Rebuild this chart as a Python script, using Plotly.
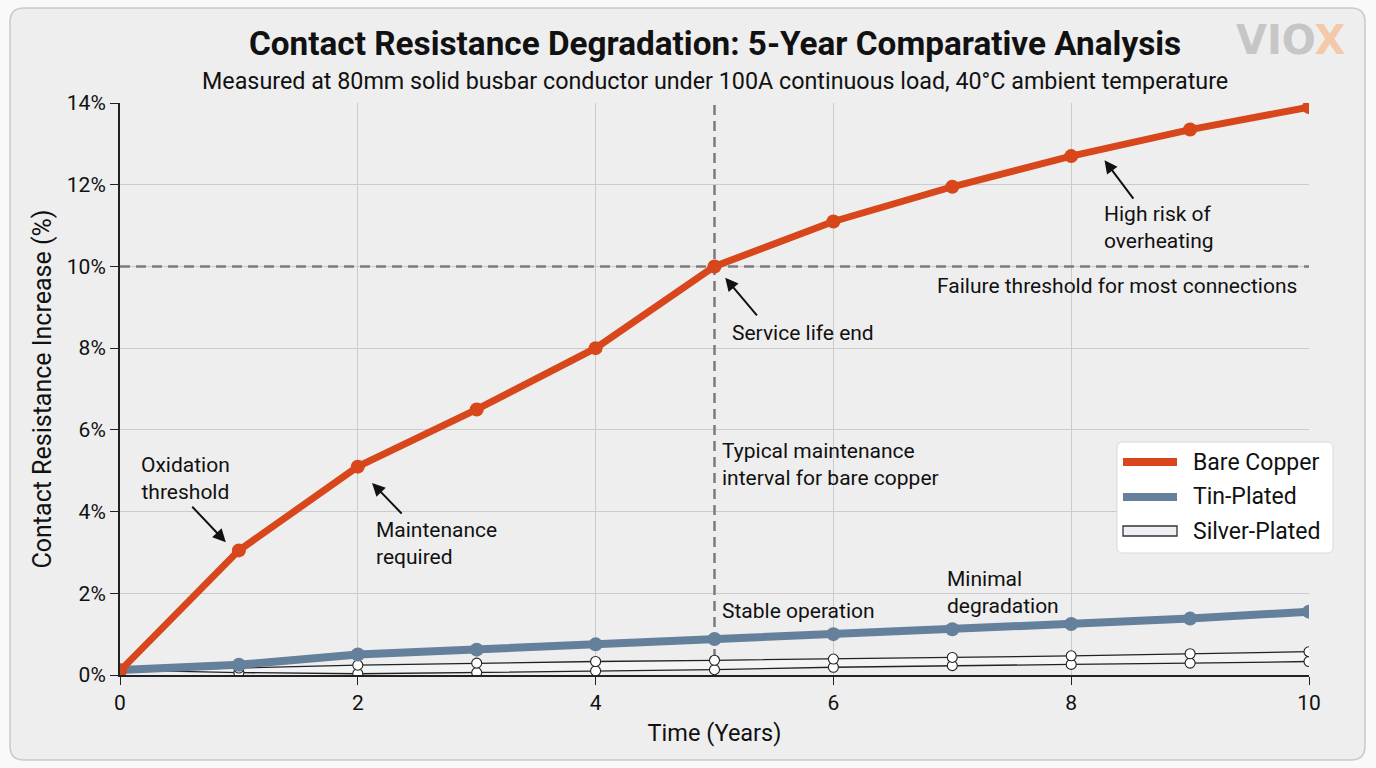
import plotly.graph_objects as go

years = [0, 1, 2, 3, 4, 5, 6, 7, 8, 9, 10]
bare_copper = [0.1, 3.05, 5.1, 6.5, 8.0, 10.0, 11.1, 11.95, 12.7, 13.35, 13.9]
tin_plated = [0.12, 0.25, 0.5, 0.62, 0.75, 0.88, 1.0, 1.12, 1.25, 1.38, 1.55]
silver_upper = [0.12, 0.17, 0.24, 0.29, 0.33, 0.36, 0.39, 0.43, 0.47, 0.52, 0.57]
silver_lower = [0.12, 0.06, 0.03, 0.06, 0.1, 0.13, 0.19, 0.23, 0.26, 0.29, 0.33]
failure_threshold = 10
maintenance_year = 5
y_ticks = [0, 2, 4, 6, 8, 10, 12, 14]
y_tick_labels = ["0%", "2%", "4%", "6%", "8%", "10%", "12%", "14%"]
x_ticks = [0, 2, 4, 6, 8, 10]
series_names = ["Bare Copper", "Tin-Plated", "Silver-Plated"]

COPPER = "#d8461b"
TIN = "#64809b"
FONT = "Roboto"

fig = go.Figure()

# silver plated band (two outlines)
fig.add_trace(go.Scatter(
    x=years, y=silver_lower, mode="lines+markers", showlegend=False,
    line=dict(color="#222222", width=1.3), name=series_names[2],
    marker=dict(size=10, color="white", line=dict(color="#222222", width=1.1)),
    hoverinfo="skip"))
fig.add_trace(go.Scatter(
    x=years, y=silver_upper, mode="lines+markers", showlegend=False,
    fill="tonexty", fillcolor="#f3f4f6", name=series_names[2],
    line=dict(color="#222222", width=1.3),
    marker=dict(size=10, color="white", line=dict(color="#222222", width=1.1)),
    hoverinfo="skip"))
fig.add_trace(go.Scatter(
    x=years, y=tin_plated, mode="lines+markers", name=series_names[1],
    line=dict(color=TIN, width=8),
    marker=dict(size=14, color=TIN), showlegend=False))
fig.add_trace(go.Scatter(
    x=years, y=bare_copper, mode="lines+markers", name=series_names[0],
    line=dict(color=COPPER, width=7),
    marker=dict(size=14, color=COPPER), showlegend=False))

# reference lines (drawn between grid and traces)
fig.add_shape(type="line", xref="x", yref="y", x0=0, x1=10,
              y0=failure_threshold, y1=failure_threshold,
              line=dict(color="#7c7c7c", width=2.5, dash="10px,6px"), layer="between")
fig.add_shape(type="line", xref="x", yref="y", x0=maintenance_year, x1=maintenance_year,
              y0=0, y1=14, line=dict(color="#7c7c7c", width=2.5, dash="10px,6px"), layer="between")

PW, PH = 1189.0, 572.0
def px(xp):
    return (xp - 120) / PW
def py(yp):
    return (675 - yp) / PH

def rounded(L, T, R, B, r):
    return (f"M {px(L+r)},{py(T)} L {px(R-r)},{py(T)} Q {px(R)},{py(T)} {px(R)},{py(T+r)} "
            f"L {px(R)},{py(B-r)} Q {px(R)},{py(B)} {px(R-r)},{py(B)} "
            f"L {px(L+r)},{py(B)} Q {px(L)},{py(B)} {px(L)},{py(B-r)} "
            f"L {px(L)},{py(T+r)} Q {px(L)},{py(T)} {px(L+r)},{py(T)} Z")

# card background
fig.add_shape(type="path", xref="paper", yref="paper", path=rounded(10, 8, 1365, 760, 14),
              fillcolor="#eeeeee", line=dict(color="#c9c9c9", width=1.5), layer="below")

# legend box (custom, to reproduce the outlined silver swatch)
fig.add_shape(type="path", xref="paper", yref="paper", path=rounded(1117, 442, 1333, 553, 6),
              fillcolor="white", line=dict(color="#d9d9d9", width=1), layer="above")
leg_rows = [462, 497, 531]
leg_colors = [COPPER, TIN, None]
for row, col, name in zip(leg_rows, leg_colors, series_names):
    if col:
        fig.add_shape(type="line", xref="paper", yref="paper",
                      x0=px(1123), x1=px(1177), y0=py(row), y1=py(row),
                      line=dict(color=col, width=8), layer="above")
    else:
        fig.add_shape(type="rect", xref="paper", yref="paper",
                      x0=px(1123), x1=px(1177), y0=py(row - 5), y1=py(row + 5),
                      fillcolor="#eef0f3", line=dict(color="#333333", width=1.3), layer="above")
    fig.add_annotation(x=px(1191), y=py(row), xref="paper", yref="paper", text=name,
                       showarrow=False, xanchor="left", yanchor="middle",
                       font=dict(family=FONT, size=23, color="#111111"))

ann_font = dict(family=FONT, size=21, color="#111111")

def text_ann(x, y, text, xanchor="left", align="left"):
    fig.add_annotation(x=x, y=y, xref="x", yref="y", text=text, showarrow=False,
                       xanchor=xanchor, yanchor="middle", align=align, font=ann_font)

def arrow_ann(x, y, ax, ay):
    fig.add_annotation(x=x, y=y, xref="x", yref="y", text="", showarrow=True,
                       ax=ax, ay=ay, arrowhead=2, arrowsize=1.3, arrowwidth=2,
                       arrowcolor="#111111")

text_ann(0.55, 4.82, "Oxidation<br>threshold", xanchor="center", align="center")
arrow_ann(0.89, 3.25, -35, -37)
text_ann(2.14, 3.23, "Maintenance<br>required")
arrow_ann(2.12, 4.70, 31, 32)
text_ann(5.13, 8.37, "Service life end")
arrow_ann(5.09, 9.72, 33, 39)
text_ann(8.26, 10.95, "High risk of<br>overheating")
arrow_ann(8.28, 12.60, 30, 40)
text_ann(9.92, 9.52, "Failure threshold for most connections", xanchor="right", align="right")
text_ann(5.05, 5.14, "Typical maintenance<br>interval for bare copper")
text_ann(5.05, 1.57, "Stable operation")
text_ann(6.94, 2.03, "Minimal<br>degradation")

# titles
fig.add_annotation(x=px(715), y=py(43), xref="paper", yref="paper",
                   text="<b>Contact Resistance Degradation: 5-Year Comparative Analysis</b>",
                   showarrow=False, xanchor="center", yanchor="middle",
                   font=dict(family=FONT, size=33.3, color="#111111"))
fig.add_annotation(x=px(715), y=py(81), xref="paper", yref="paper",
                   text="Measured at 80mm solid busbar conductor under 100A continuous load, 40°C ambient temperature",
                   showarrow=False, xanchor="center", yanchor="middle",
                   font=dict(family=FONT, size=23.3, color="#111111"))
fig.add_annotation(x=px(1290), y=py(40), xref="paper", yref="paper",
                   text="<b>VIO<span style='color:#f4c9aa'>X</span></b>",
                   showarrow=False, xanchor="center", yanchor="middle",
                   font=dict(family="DejaVu Sans", size=40, color="#c6c6c6"))

fig.update_layout(
    width=1376, height=768,
    margin=dict(l=120, r=67, t=103, b=93),
    paper_bgcolor="#f9f9f9", plot_bgcolor="rgba(0,0,0,0)",
    font=dict(family=FONT, size=19, color="#111111"),
    showlegend=False,
    xaxis=dict(range=[0, 10], tickvals=x_ticks, showgrid=True, gridcolor="#cbcbcb",
               gridwidth=1.2, showline=True, linecolor="#222222", linewidth=2,
               ticks="outside", ticklen=8, tickcolor="#222222", zeroline=False,
               tickfont=dict(family=FONT, size=21),
               title=dict(text="Time (Years)", font=dict(family=FONT, size=23.5), standoff=10)),
    yaxis=dict(range=[0, 14], tickvals=y_ticks, ticktext=y_tick_labels, showgrid=True,
               gridcolor="#cbcbcb", gridwidth=1.2, showline=True, linecolor="#222222",
               linewidth=2, ticks="outside", ticklen=8, tickcolor="#222222", zeroline=False,
               tickfont=dict(family=FONT, size=21),
               title=dict(text="Contact Resistance Increase (%)", font=dict(family=FONT, size=25),
                          standoff=8)),
)

fig.write_html("out.html", config={"displayModeBar": False},
               post_script="document.body.style.margin='0px';")
